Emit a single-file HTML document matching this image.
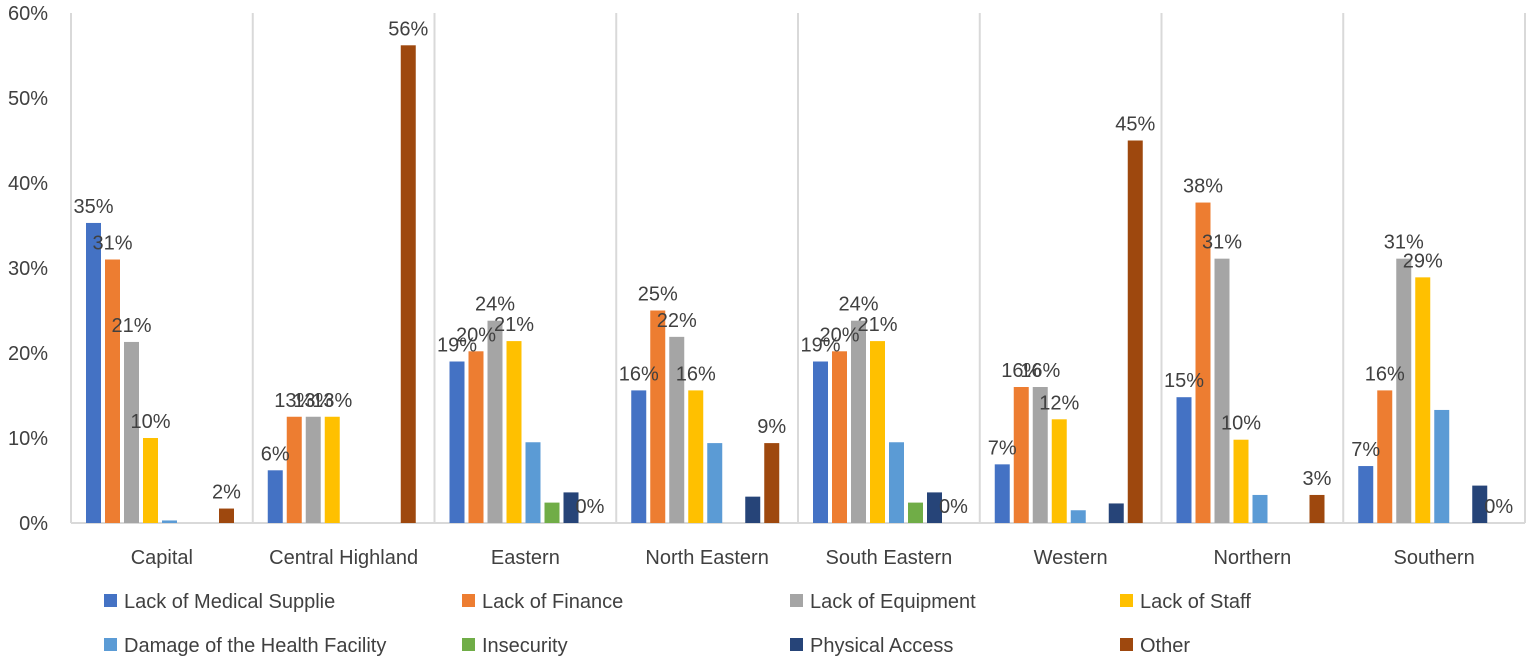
<!DOCTYPE html>
<html><head><meta charset="utf-8"><style>
body{margin:0;background:#fff;}
svg{display:block;font-family:"Liberation Sans",sans-serif;}
</style></head><body>
<svg id="chart" width="1535" height="664" viewBox="0 0 1535 664"></svg>
<script>
const categories=["Capital","Central Highland","Eastern","North Eastern","South Eastern","Western","Northern","Southern"];
const seriesNames=["Lack of Medical Supplie","Lack of Finance","Lack of Equipment","Lack of Staff","Damage of the Health Facility","Insecurity","Physical Access","Other"];
const medical=[35.3,6.2,19,15.6,19,6.9,14.8,6.7];
const finance=[31,12.5,20.2,25,20.2,16,37.7,15.6];
const equipment=[21.3,12.5,23.8,21.9,23.8,16,31.1,31.1];
const staff=[10,12.5,21.4,15.6,21.4,12.2,9.8,28.9];
const damage=[0.3,0,9.5,9.4,9.5,1.5,3.3,13.3];
const insecurity=[0,0,2.4,0,2.4,0,0,0];
const physical=[0,0,3.6,3.1,3.6,2.3,0,4.4];
const other=[1.7,56.2,0,9.4,0,45,3.3,0];
const yTicks=[0,10,20,30,40,50,60];
const labeledSeries=[0,1,2,3,7];
const colors=["#4472c4","#ed7d31","#a5a5a5","#ffc000","#5b9bd5","#70ad47","#264478","#9e480e"];
const series=[medical,finance,equipment,staff,damage,insecurity,physical,other];
const svg=document.getElementById('chart');
const NS="http://www.w3.org/2000/svg";
const L=71,R=1525,B=523,T=13;
const y=v=>B-(v/60)*(B-T);
const cw=(R-L)/categories.length;
const x=(ci,si)=>L+ci*cw+15+si*19;
function mk(tag,attrs,txt){const e=document.createElementNS(NS,tag);for(const k in attrs)e.setAttribute(k,attrs[k]);if(txt!==undefined)e.textContent=txt;svg.appendChild(e);return e;}
for(let i=0;i<=categories.length;i++){
  const g=mk('line',{x1:L+i*cw,x2:L+i*cw,y1:T,y2:B,stroke:'#d9d9d9','stroke-width':2});
  
  
}
const ax=mk('line',{x1:L,x2:R,y1:B,y2:B,stroke:'#d9d9d9','stroke-width':2});


yTicks.forEach(t=>{
  const e=mk('text',{x:48,y:y(t)+7,'text-anchor':'end','font-size':20,fill:'#404040'},t+'%');
  
  
});
categories.forEach((c,ci)=>{
  const e=mk('text',{x:L+ci*cw+cw/2,y:564,'text-anchor':'middle','font-size':20,fill:'#404040'},c);
  
  
  series.forEach((s,si)=>{
    const v=s[ci];
    if(v>0){
      const r=mk('rect',{x:x(ci,si),y:y(v),width:15,height:B-y(v),fill:colors[si]});
      
      
    }
  });
  labeledSeries.forEach(si=>{
    const v=series[si][ci];
    if(si===7||v>0){
      const t=mk('text',{x:x(ci,si)+7.5,y:y(v)-10,'text-anchor':'middle','font-size':20,fill:'#404040'},Math.round(v)+'%');
      
      
    }
  });
});
const lx=[104,462,790,1120];
seriesNames.forEach((n,i)=>{
  const cx=lx[i%4],cy=i<4?601:645;
  const s=mk('rect',{x:cx,y:cy-7,width:13,height:13,fill:colors[i]});
  
  
  const t=mk('text',{x:cx+20,y:cy+7,'font-size':20,fill:'#404040'},n);
  
  
});
</script>
</body></html>
